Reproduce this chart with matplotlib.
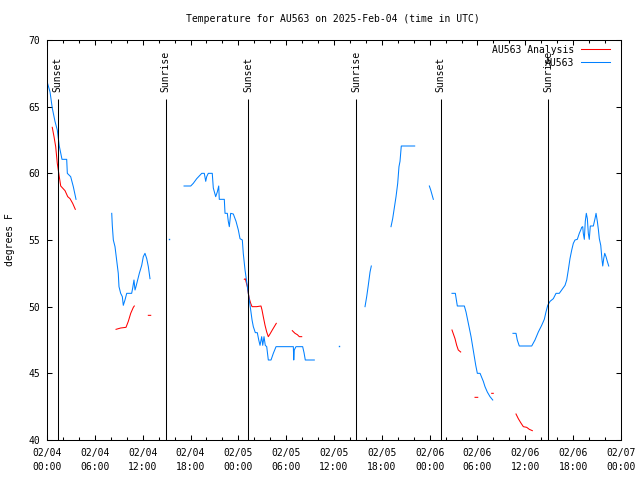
import numpy as np
import matplotlib
matplotlib.use("Agg")
import matplotlib.pyplot as plt
from matplotlib.ticker import FixedLocator, MultipleLocator

nan = np.nan

# hours since 2025-02-04 00:00 UTC
blue_t = [0.0, 0.38, 0.66, 1.0, 1.29, 1.54, 1.88, 2.47, 2.55, 2.97, 3.30, 3.64, nan,
          8.12, 8.19, 8.32, 8.53, 8.74, 8.94, 9.03, 9.24, 9.45, 9.57, 9.78, 10.0, 10.62, 10.75,
          10.91, 11.04, 11.16, 11.33, 11.58, 11.88, 12.08, 12.29, 12.51, 12.71, 12.92, nan,
          15.34, nan,
          17.19, 18.03, 18.35, 18.78, 19.41, 19.73, 19.91, 20.03, 20.23, 20.73, 20.86, 21.16,
          21.36, 21.54, 21.61, 22.24, 22.33, 22.62, 22.74, 22.87, 23.04, 23.37, 23.71, 24.0,
          24.21, 24.5, 24.62, 24.71, 24.84, 24.96, 25.13, 25.25, 25.38, 25.55, 25.72, 25.88,
          26.13, 26.38, 26.56, 26.72, 26.93, 27.06, 27.22, 27.38, 27.56, 27.76, 28.1, 28.39,
          28.73, 30.9, 30.95, 31.02, 31.23, 32.07, 32.24, 32.4, 33.53, nan,
          36.67, nan,
          39.89, 40.1, 40.3, 40.52, 40.68, nan,
          43.15, 43.36, 43.56, 43.78, 43.99, 44.15, 44.28, 44.37, 44.44, 46.12, nan,
          47.96, 48.13, 48.29, 48.46, nan,
          50.8, 51.22, 51.47, 52.35, 52.56, 52.77, 52.97, 53.19, 53.4, 53.6, 53.78, 53.98,
          54.32, 54.53, 54.73, 54.94, 55.23, 55.57, 55.91, nan,
          58.45, 58.83, 58.99, 59.24, 60.8, 61.21, 61.63, 62.05, 62.38, 62.59, 62.81, 63.1,
          63.51, 63.85, 64.26, 64.56, 64.98, 65.19, 65.39, 65.6, 65.82, 66.02, 66.23, 66.52,
          66.77, 66.95, 67.07, 67.2, 67.27, 67.4, 67.52, 67.65, 67.78, 67.9, 68.02, 68.15,
          68.53, 68.74, 68.87, 69.03, 69.16, 69.28, 69.46, 69.62, 69.71, 69.83, 69.96, 70.12,
          70.28, 70.46]
blue_v = [66.9, 66.1, 64.9, 63.9, 63.25, 62.05, 61.05, 61.05, 60.0, 59.75, 59.0, 58.05, nan,
          57.0, 56.1, 55.0, 54.5, 53.5, 52.5, 51.5, 51.0, 50.75, 50.1, 50.5, 51.0, 51.0, 51.4,
          52.0, 51.25, 51.5, 51.9, 52.5, 53.1, 53.75, 54.0, 53.6, 53.0, 52.1, nan,
          55.05, nan,
          59.05, 59.05, 59.25, 59.6, 60.0, 60.0, 59.4, 59.75, 60.0, 60.0, 58.9, 58.25,
          58.6, 59.05, 58.05, 58.05, 57.0, 57.0, 56.4, 56.0, 57.0, 56.95, 56.4, 55.75,
          55.1, 55.0, 54.0, 53.5, 52.75, 52.25, 51.6, 51.0, 50.5, 49.75, 49.0, 48.5,
          48.05, 48.05, 47.5, 47.1, 47.75, 47.1, 47.75, 47.1, 47.0, 46.0, 46.0, 46.5,
          47.0, 47.0, 46.0, 46.75, 47.0, 47.0, 46.55, 46.0, 46.0, nan,
          47.05, nan,
          50.0, 50.75, 51.6, 52.6, 53.05, nan,
          56.0, 56.6, 57.4, 58.25, 59.25, 60.5, 60.9, 61.6, 62.05, 62.05, nan,
          59.05, 58.75, 58.4, 58.05, nan,
          51.0, 51.0, 50.05, 50.05, 49.6, 49.0, 48.4, 47.75, 47.0, 46.25, 45.6, 45.0,
          45.0, 44.7, 44.4, 44.0, 43.6, 43.25, 43.0, nan,
          48.0, 48.0, 47.5, 47.05, 47.05, 47.5, 48.1, 48.6, 49.05, 49.6, 50.1, 50.4,
          50.6, 51.0, 51.0, 51.25, 51.6, 52.0, 52.75, 53.6, 54.25, 54.75, 55.0, 55.05,
          55.5, 55.75, 55.95, 56.0, 55.5, 55.05, 56.4, 57.0, 56.6, 55.5, 55.05, 56.05,
          56.05, 56.6, 57.0, 56.4, 55.8, 55.1, 54.6, 53.5, 53.05, 53.6, 54.0, 53.75,
          53.4, 53.05]

red_t = [0.66, 0.88, 1.09, 1.29, 1.54, 1.72, 2.26, 2.60, 2.89, 3.22, 3.55, nan,
         8.66, 9.24, 9.91, 10.20, 10.50, 10.83, 10.95, nan,
         12.71, 13.01, nan,
         24.75, 24.87, 25.13, 25.25, 25.38, 25.55, 25.72, 26.3, 26.84, 26.97, 27.13, 27.35,
         27.56, 27.76, 27.97, 28.26, 28.56, 28.76, nan,
         30.77, 31.11, 31.4, 31.65, 31.95, nan,
         50.8, 51.18, 51.39, 51.59, 51.89, nan,
         53.69, 54.03, nan,
         55.78, 55.98, nan,
         58.83, 59.12, 59.42, 59.75, 60.17, 60.5, 60.88]
red_v = [63.45, 62.75, 62.0, 60.75, 59.75, 59.05, 58.7, 58.25, 58.1, 57.75, 57.3, nan,
         48.3, 48.4, 48.45, 48.9, 49.5, 49.95, 50.05, nan,
         49.35, 49.35, nan,
         52.05, 52.1, 51.5, 51.0, 50.6, 50.25, 50.0, 50.0, 50.05, 49.75, 49.25, 48.6,
         48.1, 47.75, 47.95, 48.25, 48.55, 48.75, nan,
         48.2, 48.0, 47.9, 47.75, 47.75, nan,
         48.25, 47.6, 47.1, 46.75, 46.6, nan,
         43.2, 43.2, nan,
         43.5, 43.5, nan,
         41.95, 41.6, 41.3, 41.0, 40.95, 40.8, 40.7]

sun_t = [1.34, 14.89, 25.26, 38.77, 49.4, 62.9]
sun_labels = ["Sunset", "Sunrise", "Sunset", "Sunrise", "Sunset", "Sunrise"]

xtick_hours = [0, 6, 12, 18, 24, 30, 36, 42, 48, 54, 60, 66, 72]
xtick_labels = ["02/04\n00:00", "02/04\n06:00", "02/04\n12:00", "02/04\n18:00",
                "02/05\n00:00", "02/05\n06:00", "02/05\n12:00", "02/05\n18:00",
                "02/06\n00:00", "02/06\n06:00", "02/06\n12:00", "02/06\n18:00",
                "02/07\n00:00"]
ytick_vals = [40, 45, 50, 55, 60, 65, 70]

title = "Temperature for AU563 on 2025-Feb-04 (time in UTC)"
series_names = ["AU563 Analysis", "AU563"]
RED = "#ff0000"
BLUE = "#0080ff"

plt.rcParams['font.family'] = ['DejaVu Sans Mono']
FS = 7
LW = 0.75

fig = plt.figure(figsize=(6.4, 4.8), dpi=100)
ax = fig.add_axes([47 / 640, 40 / 480, 574 / 640, 400 / 480])

def isolated(t, v):
    t = np.asarray(t, float); v = np.asarray(v, float)
    ok = ~np.isnan(v)
    prev = np.r_[False, ok[:-1]]
    nxt = np.r_[ok[1:], False]
    m = ok & ~prev & ~nxt
    return t[m], v[m]

ax.plot(red_t, red_v, color=RED, lw=LW, label=series_names[0])
ax.plot(blue_t, blue_v, color=BLUE, lw=LW, label=series_names[1])
it, iv = isolated(blue_t, blue_v)
ax.plot(it, iv, ls='none', marker='s', ms=1.0, color=BLUE, mew=0)
it, iv = isolated(red_t, red_v)
ax.plot(it, iv, ls='none', marker='s', ms=1.0, color=RED, mew=0)

ax.vlines(sun_t, 40, 65.6, color='black', lw=LW)
for t, lab in zip(sun_t, sun_labels):
    ax.text(t, 66.1, lab, rotation=90, ha='center', va='bottom', fontsize=FS)

ax.set_xlim(0, 72)
ax.set_ylim(40, 70)
ax.xaxis.set_major_locator(FixedLocator(xtick_hours))
ax.set_xticklabels(xtick_labels, fontsize=FS, linespacing=1.5)
ax.xaxis.set_minor_locator(MultipleLocator(2))
ax.set_yticks(ytick_vals)
ax.set_yticklabels([str(v) for v in ytick_vals], fontsize=FS)
ax.tick_params(which='both', direction='in', top=True, right=True, width=0.75)
ax.tick_params(which='major', length=3.5)
ax.tick_params(which='minor', length=2)
ax.tick_params(axis='x', which='major', pad=6)
ax.tick_params(axis='y', which='major', pad=5)
for s in ax.spines.values():
    s.set_linewidth(0.75)

ax.set_ylabel("degrees F", fontsize=FS)
ax.yaxis.set_label_coords(-0.055, 0.5)

fig.text(333 / 640, 1 - 19 / 480, title, ha='center', va='center', fontsize=FS)

ax.legend(loc='upper right', bbox_to_anchor=(0.981, 0.988), markerfirst=False,
          frameon=False, fontsize=FS, handlelength=3.0, handletextpad=0.7,
          borderpad=0, borderaxespad=0, labelspacing=0.3)

fig.savefig("out.png", dpi=100)
